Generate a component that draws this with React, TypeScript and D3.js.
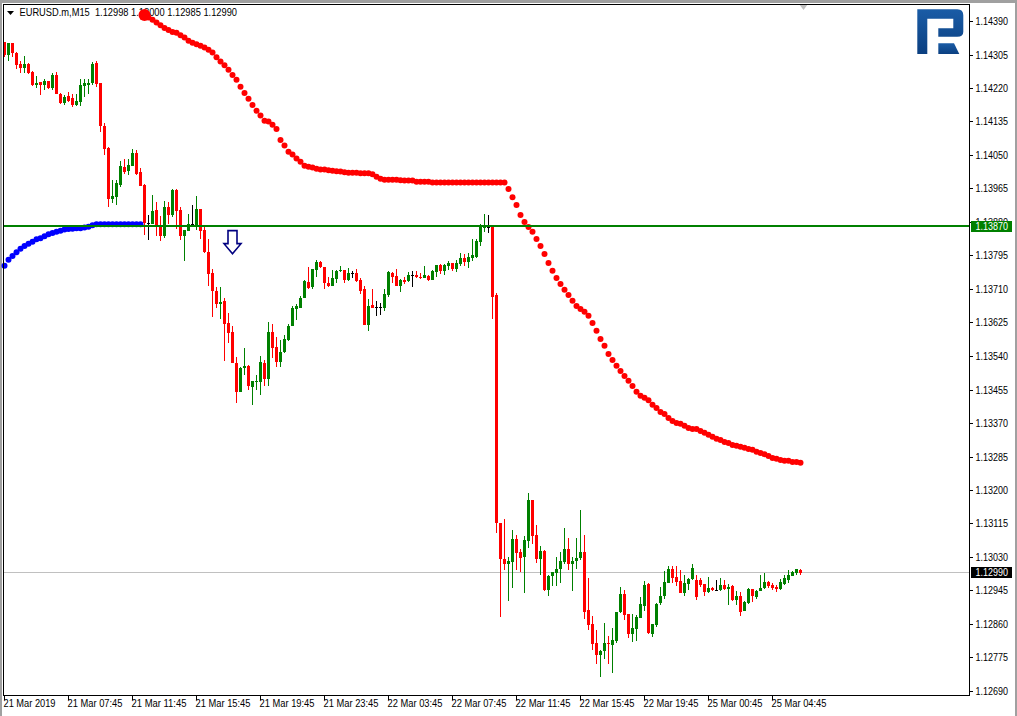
import React from "react";
import * as d3 from "d3";

// Prices are in points: 114337 means 1.14337
const opens = [
114337,114303,114333,114310,114281,114270,114282,114261,114227,114234,
114227,114239,114219,114253,114206,114181,114199,114194,114177,114185,
114226,114227,114232,114284,114232,114124,114068,113938,113944,113975,
114020,114010,114023,114054,114007,113974,113877,113875,113911,113869,
113845,113917,113898,113962,113911,113845,113858,113875,113869,113913,
113860,113803,113750,113705,113672,113680,113623,113601,113522,113449,
113510,113515,113462,113473,113473,113523,113481,113601,113563,113524,
113549,113581,113615,113660,113662,113686,113728,113714,113758,113779,
113766,113725,113718,113736,113756,113758,113733,113751,113751,113733,
113710,113619,113670,113664,113664,113662,113695,113751,113743,113718,
113733,113730,113745,113746,113741,113738,113743,113733,113753,113771,
113756,113769,113776,113761,113774,113789,113779,113789,113791,113829,
113865,113867,113867,113695,113116,113025,113012,113017,113075,113042,
113030,113070,113174,113085,113025,113045,112946,112981,112989,113000,
113017,113050,113012,113019,113027,113042,112895,112860,112811,112781,
112791,112811,112806,112817,112890,112936,112885,112834,112847,112875,
112905,112961,112835,112858,112914,112931,112964,113000,112979,112969,
112939,112962,112974,112972,112972,112962,112941,112952,112947,112947,
112959,112949,112957,112921,112931,112893,112914,112949,112929,112944,
112952,112967,112959,112954,112949,112962,112972,112982,112990,112998];
const highs = [
114337,114335,114335,114312,114288,114301,114284,114263,114250,114236,
114244,114239,114257,114260,114208,114202,114210,114206,114206,114244,
114242,114244,114287,114288,114232,114130,114071,113986,113986,114035,
114041,114041,114064,114062,114018,113977,113898,113949,113930,113896,
113934,113930,113964,113964,113918,113860,113901,113924,113946,113913,
113869,113837,113761,113716,113715,113688,113649,113617,113537,113513,
113561,113518,113477,113492,113539,113530,113627,113621,113587,113581,
113594,113622,113666,113672,113691,113733,113766,113761,113784,113781,
113766,113741,113758,113758,113769,113758,113763,113756,113761,113738,
113718,113685,113710,113680,113675,113710,113756,113753,113761,113736,
113741,113753,113756,113756,113751,113769,113746,113758,113771,113774,
113774,113781,113776,113784,113801,113799,113801,113837,113837,113875,
113900,113898,113867,113700,113116,113126,113030,113098,113085,113050,
113083,113192,113174,113111,113058,113047,112984,112992,113030,113042,
113103,113078,113030,113078,113149,113085,112976,112880,112844,112794,
112862,112829,112850,112890,112954,112946,112885,112885,112882,112928,
112969,112964,112860,112914,112954,112995,113007,113007,113007,112997,
112985,112977,113012,112985,112977,112962,112979,112954,112972,112977,
112972,112962,112959,112944,112941,112919,112952,112949,112947,112985,
112990,112969,112964,112959,112974,112985,112997,112995,113000,113000];
const lows = [
114299,114289,114298,114268,114257,114257,114255,114225,114219,114202,
114215,114218,114216,114205,114179,114177,114185,114172,114174,114174,
114198,114206,114227,114223,114109,114050,113919,113927,113923,113969,
114003,113999,114023,113999,113972,113846,113835,113875,113845,113831,
113839,113875,113892,113863,113835,113780,113856,113869,113860,113837,
113801,113718,113638,113663,113634,113528,113574,113522,113422,113448,
113492,113454,113416,113454,113442,113463,113464,113536,113513,113511,
113547,113577,113615,113632,113662,113686,113711,113710,113741,113763,
113710,113714,113718,113725,113753,113725,113730,113738,113728,113697,
113619,113604,113662,113642,113644,113654,113690,113725,113718,113703,
113723,113728,113715,113738,113736,113738,113730,113733,113741,113748,
113746,113758,113756,113753,113769,113769,113763,113781,113789,113819,
113855,113852,113634,113091,112878,112997,112918,112951,112997,112992,
112938,113052,113063,113014,112984,112943,112931,112956,112956,112964,
113012,112997,112943,113000,113022,112872,112844,112794,112758,112725,
112771,112758,112735,112811,112888,112870,112824,112814,112817,112875,
112893,112834,112827,112853,112908,112924,112964,112964,112957,112939,
112931,112947,112972,112921,112954,112931,112939,112944,112945,112944,
112947,112908,112919,112908,112881,112893,112911,112916,112924,112944,
112949,112952,112947,112941,112947,112959,112964,112982,112985,112985];
const closes = [
114303,114333,114309,114278,114270,114282,114259,114227,114232,114227,
114237,114220,114253,114205,114181,114198,114187,114177,114187,114227,
114232,114232,114282,114230,114123,114065,113938,113946,113980,114023,
114007,114024,114054,114002,113972,113877,113877,113908,113869,113845,
113917,113898,113962,113909,113845,113860,113875,113875,113913,113858,
113803,113749,113706,113672,113677,113622,113599,113522,113449,113510,
113515,113463,113477,113477,113524,113481,113601,113561,113524,113551,
113584,113617,113662,113666,113688,113731,113713,113761,113779,113765,
113725,113718,113738,113756,113758,113733,113751,113751,113730,113705,
113619,113667,113662,113664,113664,113697,113753,113741,113718,113733,
113728,113746,113745,113741,113738,113746,113733,113756,113771,113756,
113771,113776,113761,113776,113789,113779,113791,113796,113832,113870,
113867,113867,113690,113117,113025,113012,113019,113075,113040,113027,
113073,113174,113083,113025,113045,112946,112981,112992,113000,113019,
113050,113012,113019,113027,113042,112890,112857,112809,112781,112791,
112811,112809,112819,112890,112936,112882,112834,112850,112877,112910,
112959,112837,112860,112911,112931,112967,113000,112977,112967,112939,
112964,112974,113002,112929,112959,112941,112952,112947,112947,112959,
112949,112954,112921,112931,112891,112916,112949,112931,112944,112952,
112967,112957,112952,112949,112967,112977,112985,112992,113000,112990];

// Indicator: blue dots for the first bars, red dots from bar 35 to the end
const blueDots = [
113769,113784,113794,113803,113812,113819,113825,113830,113836,113839,
113844,113849,113852,113855,113858,113861,113862,113863,113864,113864,
113866,113868,113872,113874,113874,113874,113874,113874,113874,113874,
113874,113874,113874,113874,113874];
const redStart = 35;
const redDots = [
114405,114399,114393,114386,114379,
114372,114367,114362,114360,114354,114348,114340,114335,114331,114327,
114323,114317,114310,114298,114287,114278,114266,114253,114241,114223,
114207,114193,114177,114162,114150,114137,114135,114127,114116,114088,
114074,114058,114051,114041,114033,114023,114020,114018,114015,114013,
114013,114011,114010,114009,114008,114006,114005,114005,114005,114004,
114004,114004,114001,113995,113990,113987,113987,113987,113987,113986,
113985,113985,113985,113982,113982,113982,113982,113980,113980,113980,
113980,113980,113980,113980,113980,113980,113980,113980,113980,113980,
113980,113980,113980,113980,113980,113980,
113964,113943,113923,113898,113880,113867,113855,113837,113819,113799,
113776,113756,113738,113723,113708,113695,113680,113667,113659,113652,
113642,113624,113604,113583,113566,113545,113530,113515,113502,113489,
113477,113464,113449,113439,113434,113428,113416,113408,113398,113393,
113383,113375,113370,113368,113363,113357,113355,113355,113350,113345,
113340,113335,113330,113327,113322,113319,113314,113312,113310,113307,
113304,113302,113297,113294,113291,113286,113281,113279,113276,113274,
113274,113271,113271,113269];

const priceTicks = ["1.12690","1.12775","1.12860","1.12945","1.13030","1.13115","1.13200","1.13285","1.13370","1.13455","1.13540","1.13625","1.13710","1.13795","1.13880","1.13965","1.14050","1.14135","1.14220","1.14305","1.14390"];
const timeTicks = ["21 Mar 2019","21 Mar 07:45","21 Mar 11:45","21 Mar 15:45","21 Mar 19:45","21 Mar 23:45","22 Mar 03:45","22 Mar 07:45","22 Mar 11:45","22 Mar 15:45","22 Mar 19:45","25 Mar 00:45","25 Mar 04:45"];
const timeTickEvery = 16;
const title = "EURUSD.m,M15  1.12998 1.13000 1.12985 1.12990";
const levelPrice = 1.1387;
const lastPrice = 1.1299;
const arrowBar = 57;
const arrowPrice = 1.13858;

const W = 1017, H = 716;
const frame = { left: 3, top: 4, right: 970, bottom: 695 };
const x = d3.scaleLinear().domain([0, 199]).range([4.5, 800.5]);
const y = d3.scaleLinear().domain([1.1269, 1.1439]).range([691, 21]);
const py = (p: number) => y(p / 1e5);
const RED = "#ff0000", GREEN = "#008000", BLACK = "#000000";
const font = "'Liberation Sans', Arial, sans-serif";

export default function App() {
  const bars = d3.range(opens.length);
  const levelY = Math.round(y(levelPrice));
  const lastY = Math.floor(y(lastPrice));
  const ax = x(arrowBar), ay = y(arrowPrice);
  return (
    <svg width={W} height={H} viewBox={`0 0 ${W} ${H}`} style={{ position: "absolute", left: 0, top: 0, display: "block", background: "#fff" }}>
      <defs>
        <linearGradient id="logoFill" x1="0" y1="0" x2="0" y2="1">
          <stop offset="0" stopColor="#1a5ca6" />
          <stop offset="1" stopColor="#0b3f80" />
        </linearGradient>
      </defs>
      {/* window edges */}
      <rect x={0} y={0} width={W} height={3} fill="#a0a0a0" />
      <rect x={0} y={0} width={2} height={H} fill="#a0a0a0" />
      <rect x={W - 2} y={0} width={2} height={H} fill="#a0a0a0" />
      {/* shift marker */}
      <path d="M799,4 L808,4 L803.5,10 Z" fill="#c0c0c0" />

      {/* last price line behind the bars */}
      <rect x={frame.left} y={lastY} width={frame.right - frame.left} height={1} fill="#c0c0c0" shapeRendering="crispEdges" />

      {/* logo */}
      <g fill="url(#logoFill)">
        <path d="M917.3,9.3 L957.3,9.3 Q963.3,9.3 963.3,15.3 L963.3,31.7 Q963.3,36.7 957.3,36.7 L938.3,36.7 L938.3,28.3 L953.3,28.3 L953.3,18.7 L927.3,18.7 L927.3,54 L917.3,54 Z" />
        <path d="M938.3,43.3 L954,43.3 L959.3,54 L938.3,54 Z" />
      </g>

      {/* candles */}
      <g shapeRendering="crispEdges">
        {bars.map((i) => {
          const o = opens[i], c = closes[i];
          const col = c > o ? GREEN : c < o ? RED : BLACK;
          const cx = x(i);
          const top = Math.round(py(Math.max(o, c)));
          const bot = Math.max(top + 1, Math.round(py(Math.min(o, c))));
          const hi = Math.round(py(highs[i]));
          const lo = Math.round(py(lows[i]));
          return (
            <g key={i} fill={col}>
              <rect x={cx - 0.5} y={hi} width={1} height={Math.max(1, lo - hi)} />
              <rect x={Math.max(cx - 1.5, frame.left + 1)} y={top} width={cx - 1.5 < frame.left + 1 ? 2 : 3} height={bot - top} />
            </g>
          );
        })}
      </g>

      {/* title */}
      <path d="M7,11 L14,11 L10.5,15 Z" fill="#000" />
      <text x={19.5} y={15.5} fontFamily={font} fontSize={10} fill="#000" textLength={217.5} lengthAdjust="spacingAndGlyphs" style={{ whiteSpace: "pre" }}>{title}</text>

      {/* indicator dots */}
      <g fill="#0000ff">
        {blueDots.map((v, i) => <circle key={i} cx={x(i)} cy={py(v)} r={3} />)}
      </g>
      <g fill={RED}>
        {redDots.map((v, i) => <circle key={i} cx={x(i + redStart)} cy={py(v)} r={i === 0 ? 6 : 3} />)}
      </g>

      {/* arrow */}
      <path
        d={`M${ax - 4.5},${ay} L${ax + 4.5},${ay} L${ax + 4.5},${ay + 13} L${ax + 8.5},${ay + 13} L${ax},${ay + 23} L${ax - 8.5},${ay + 13} L${ax - 4.5},${ay + 13} Z`}
        fill="#fff" stroke="#000080" strokeWidth={1.6}
      />

      {/* level line */}
      <rect x={frame.left} y={levelY - 1} width={frame.right - frame.left} height={2} fill={GREEN} shapeRendering="crispEdges" />

      {/* frame */}
      <rect x={frame.left + 0.5} y={frame.top + 0.5} width={frame.right - frame.left - 1} height={frame.bottom - frame.top} fill="none" stroke="#000" strokeWidth={1} shapeRendering="crispEdges" />

      {/* price axis */}
      <g fontFamily={font} fontSize={10} fill="#000">
        {priceTicks.map((t) => {
          const ty = y(+t);
          return (
            <g key={t}>
              <rect x={frame.right} y={Math.round(ty)} width={3} height={1} fill="#000" shapeRendering="crispEdges" />
              <text x={975.5} y={Math.round(ty) + 4} textLength={32.5} lengthAdjust="spacingAndGlyphs">{t}</text>
            </g>
          );
        })}
      </g>
      {/* time axis */}
      <g fontFamily={font} fontSize={10} fill="#000">
        {timeTicks.map((t, k) => {
          const tx = Math.floor(x(k * timeTickEvery));
          return (
            <g key={t}>
              <rect x={tx} y={frame.bottom + 1} width={1} height={4} fill="#000" shapeRendering="crispEdges" />
              <text x={tx - 0.5} y={707} textLength={k === 0 ? 52 : 55} lengthAdjust="spacingAndGlyphs">{t}</text>
            </g>
          );
        })}
      </g>

      {/* value tags */}
      <g fontFamily={font} fontSize={10}>
        <rect x={971} y={levelY - 5} width={41} height={11} fill={GREEN} shapeRendering="crispEdges" />
        <text x={975.5} y={levelY + 4} fill="#fff" textLength={32.5} lengthAdjust="spacingAndGlyphs">{levelPrice.toFixed(5)}</text>
        <rect x={971} y={lastY - 5} width={41} height={11} fill="#000" shapeRendering="crispEdges" />
        <text x={975.5} y={lastY + 4} fill="#fff" textLength={32.5} lengthAdjust="spacingAndGlyphs">{lastPrice.toFixed(5)}</text>
      </g>
    </svg>
  );
}
